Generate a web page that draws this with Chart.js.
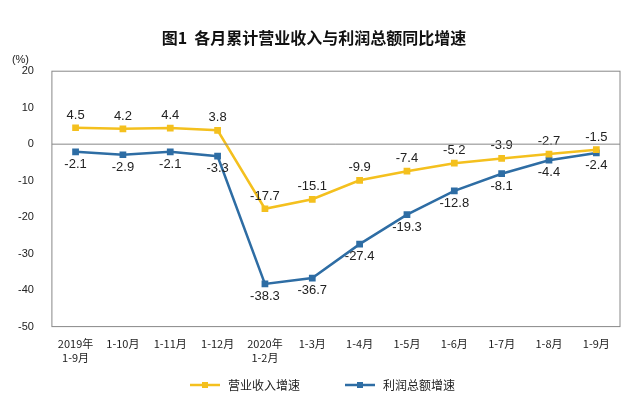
<!DOCTYPE html>
<html><head><meta charset="utf-8">
<script src="https://cdn.jsdelivr.net/npm/chart.js@4/dist/chart.umd.min.js"></script>
<style>body{margin:0;background:#fff}#w{width:640px;height:407px;position:relative}</style>
</head><body><div id="w"><canvas id="c"></canvas></div>
<script>
const categories=[["2019年","1-9月"],"1-10月","1-11月","1-12月",["2020年","1-2月"],"1-3月","1-4月","1-5月","1-6月","1-7月","1-8月","1-9月"];
const revenue=[4.5,4.2,4.4,3.8,-17.7,-15.1,-9.9,-7.4,-5.2,-3.9,-2.7,-1.5];
const profit=[-2.1,-2.9,-2.1,-3.3,-38.3,-36.7,-27.4,-19.3,-12.8,-8.1,-4.4,-2.4];
const yTicks=[20,10,0,-10,-20,-30,-40,-50];
const labelsPlugin={id:'lbl',afterDatasetsDraw(ch){const ctx=ch.ctx;ctx.save();ctx.font='13px "Liberation Sans", Arial';ctx.fillStyle='#222';ctx.textAlign='center';
ch.data.datasets.forEach((ds,i)=>{ch.getDatasetMeta(i).data.forEach((p,j)=>{const v=ds.data[j];const up=i===0;ctx.textBaseline=up?'bottom':'top';ctx.fillText(v.toFixed(1),p.x,p.y+(up?-6:6));});});
ctx.font='11px "Liberation Sans", Arial';ctx.textAlign='left';ctx.textBaseline='bottom';ctx.fillText('(%)',ch.chartArea.left-40,ch.chartArea.top-6);
const a=ch.chartArea;ctx.strokeStyle='#888';ctx.lineWidth=1;ctx.strokeRect(a.left,a.top,a.right-a.left,a.bottom-a.top);
const y0=ch.scales.y.getPixelForValue(0);ctx.beginPath();ctx.moveTo(a.left,y0);ctx.lineTo(a.right,y0);ctx.stroke();
const items=[[ch.data.datasets[0],190],[ch.data.datasets[1],345]];ctx.font='12px "Noto Sans CJK SC"';ctx.textBaseline='middle';
items.forEach(([ds,x])=>{const y=385;ctx.strokeStyle=ds.borderColor;ctx.lineWidth=2.5;ctx.beginPath();ctx.moveTo(x,y);ctx.lineTo(x+30,y);ctx.stroke();ctx.fillStyle=ds.borderColor;ctx.fillRect(x+12,y-3,6,6);ctx.fillStyle='#222';ctx.fillText(ds.label,x+38,y);});
ctx.restore();}};
new Chart(document.getElementById('c'),{type:'line',data:{labels:categories,datasets:[
{label:'营业收入增速',data:revenue,borderColor:'#f4c01e',backgroundColor:'#f4c01e',borderWidth:2.5,pointStyle:'rect',pointRadius:3,tension:0},
{label:'利润总额增速',data:profit,borderColor:'#2e6da4',backgroundColor:'#2e6da4',borderWidth:2.5,pointStyle:'rect',pointRadius:3,tension:0}]},
options:{responsive:true,maintainAspectRatio:false,animation:false,layout:{padding:{left:8,right:20,top:0,bottom:40}},
plugins:{title:{display:true,text:'图1  各月累计营业收入与利润总额同比增速',font:{size:16,weight:'bold',family:'"Noto Sans CJK SC"'},color:'#111',padding:{top:28,bottom:24}},
legend:{display:false},tooltip:{enabled:false}},
scales:{x:{offset:true,grid:{display:false,drawTicks:true},border:{display:false},ticks:{font:{size:11,family:'"Noto Sans CJK SC"'},color:'#222',maxRotation:0,autoSkip:false}},
y:{min:-50,max:20,afterBuildTicks(s){s.ticks=yTicks.map(v=>({value:v}));},grid:{display:false},border:{display:false},ticks:{font:{size:11},color:'#222',padding:10}}}},
plugins:[labelsPlugin]});
</script></body></html>
